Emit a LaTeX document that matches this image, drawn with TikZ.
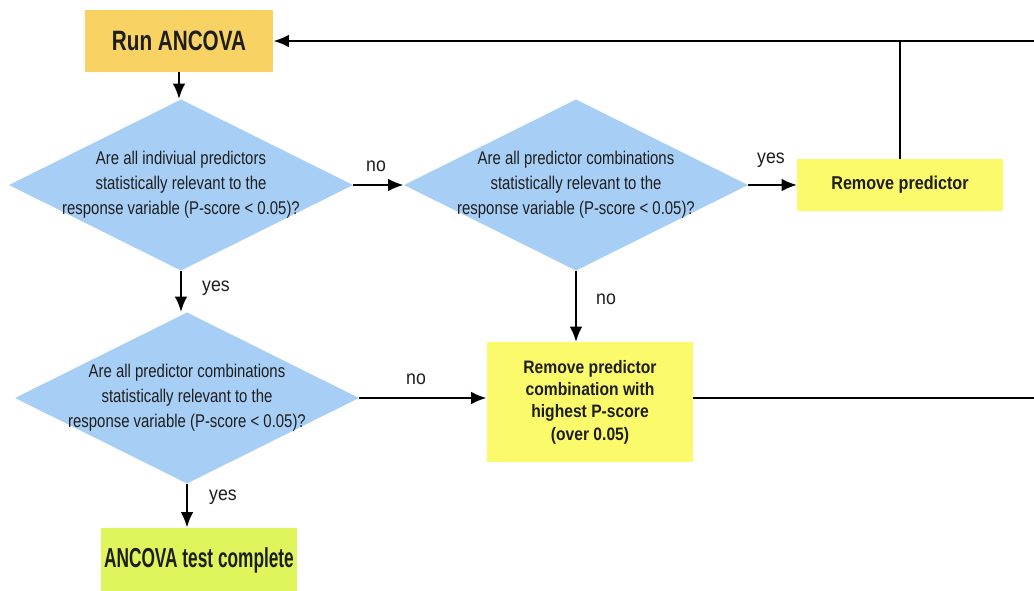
\documentclass[tikz,border=0pt]{standalone}
\usepackage{fontspec}
\setmainfont{Liberation Sans}
\newfontfamily\askfont[FakeStretch=0.81]{Liberation Sans}
\newfontfamily\runfont[FakeStretch=0.74]{Liberation Sans}
\newfontfamily\donefont[FakeStretch=0.63]{Liberation Sans}
\newfontfamily\stepfont[FakeStretch=0.87]{Liberation Sans}
\newfontfamily\tagfont[FakeStretch=0.9]{Liberation Sans}
\usetikzlibrary{shapes.geometric,arrows.meta}
\definecolor{runcol}{HTML}{F9D264}
\definecolor{stepcol}{HTML}{FBFA6A}
\definecolor{donecol}{HTML}{E0F45C}
\definecolor{askcol}{HTML}{A7CFF6}
\definecolor{inkcol}{HTML}{1E1E1E}
\tikzset{
  decision/.style={diamond,fill=askcol,inner sep=0pt,minimum width=8.6cm,minimum height=4.28cm},
  asktext/.style={align=center,text=inkcol,font=\askfont\fontsize{13.1}{17.8}\selectfont},
  stepbox/.style={rectangle,fill=stepcol,align=center,text=inkcol,inner sep=0pt},
  flow/.style={-{Latex[length=11pt,width=9pt]},line width=1.8pt},
  plain/.style={line width=1.8pt},
  tag/.style={text=inkcol,font=\tagfont\fontsize{14}{15}\selectfont}
}
\begin{document}
\begin{tikzpicture}[x=0.025cm,y=-0.025cm]
  \useasboundingbox[fill=white] (0,0) rectangle (1034,591);
  \coordinate (edge) at (1034,0);
  \node[stepbox,fill=runcol,minimum width=4.7cm,minimum height=1.55cm,
        font=\runfont\bfseries\fontsize{19.9}{22}\selectfont] (run) at (179,41) {Run ANCOVA};
  \node[decision] (d1) at (181,185) {};
  \node[asktext] at (d1) {Are all indiviual predictors\\statistically relevant to the\\response variable (P-score < 0.05)?};
  \node[decision] (d2) at (576,185) {};
  \node[asktext] at (d2) {Are all predictor combinations\\statistically relevant to the\\response variable (P-score < 0.05)?};
  \node[stepbox,minimum width=5.125cm,minimum height=1.3cm,
        font=\stepfont\bfseries\fontsize{13.2}{15}\selectfont] (rp) at (900,185) {Remove predictor};
  \node[decision] (d3) at (187,398) {};
  \node[asktext] at (d3) {Are all predictor combinations\\statistically relevant to the\\response variable (P-score < 0.05)?};
  \node[stepbox,minimum width=5.15cm,minimum height=2.975cm,
        font=\stepfont\bfseries\fontsize{12.8}{15.9}\selectfont] (rpc) at (590,402)
        {Remove predictor\\combination with\\highest P-score\\(over 0.05)};
  \node[stepbox,fill=donecol,minimum width=4.9cm,minimum height=1.6cm,
        font=\donefont\bfseries\fontsize{19.5}{22}\selectfont] (done) at (199,560) {ANCOVA test complete};

  \draw[flow] (run.south) -- (run.south |- d1.north);
  \draw[flow] (d1.east) -- (d2.west);
  \draw[flow] (d2.east) -- (rp.west);
  \draw[flow] (d2.south) -- (d2.south |- rpc.north);
  \draw[flow] (d1.south) -- (d1.south |- d3.north);
  \draw[flow] (d3.east) -- (d3.east -| rpc.west);
  \draw[flow] (d3.south) -- (d3.south |- done.north);
  \draw[flow] (edge |- run.east) -- (run.east);
  \draw[plain] (rp.north) -- (rp.north |- run.east);
  \draw[plain] (d3.east -| rpc.east) -- (d3.east -| edge);

  \node[tag] (no1) at (376,166) {no};
  \node[tag] (yes1) at (771,160) {yes};
  \node[tag] (no2) at (606,299) {no};
  \node[tag] (yes2) at (216,288) {yes};
  \node[tag] (no3) at (416,379) {no};
  \node[tag] (yes3) at (223,497) {yes};
\end{tikzpicture}
\end{document}
